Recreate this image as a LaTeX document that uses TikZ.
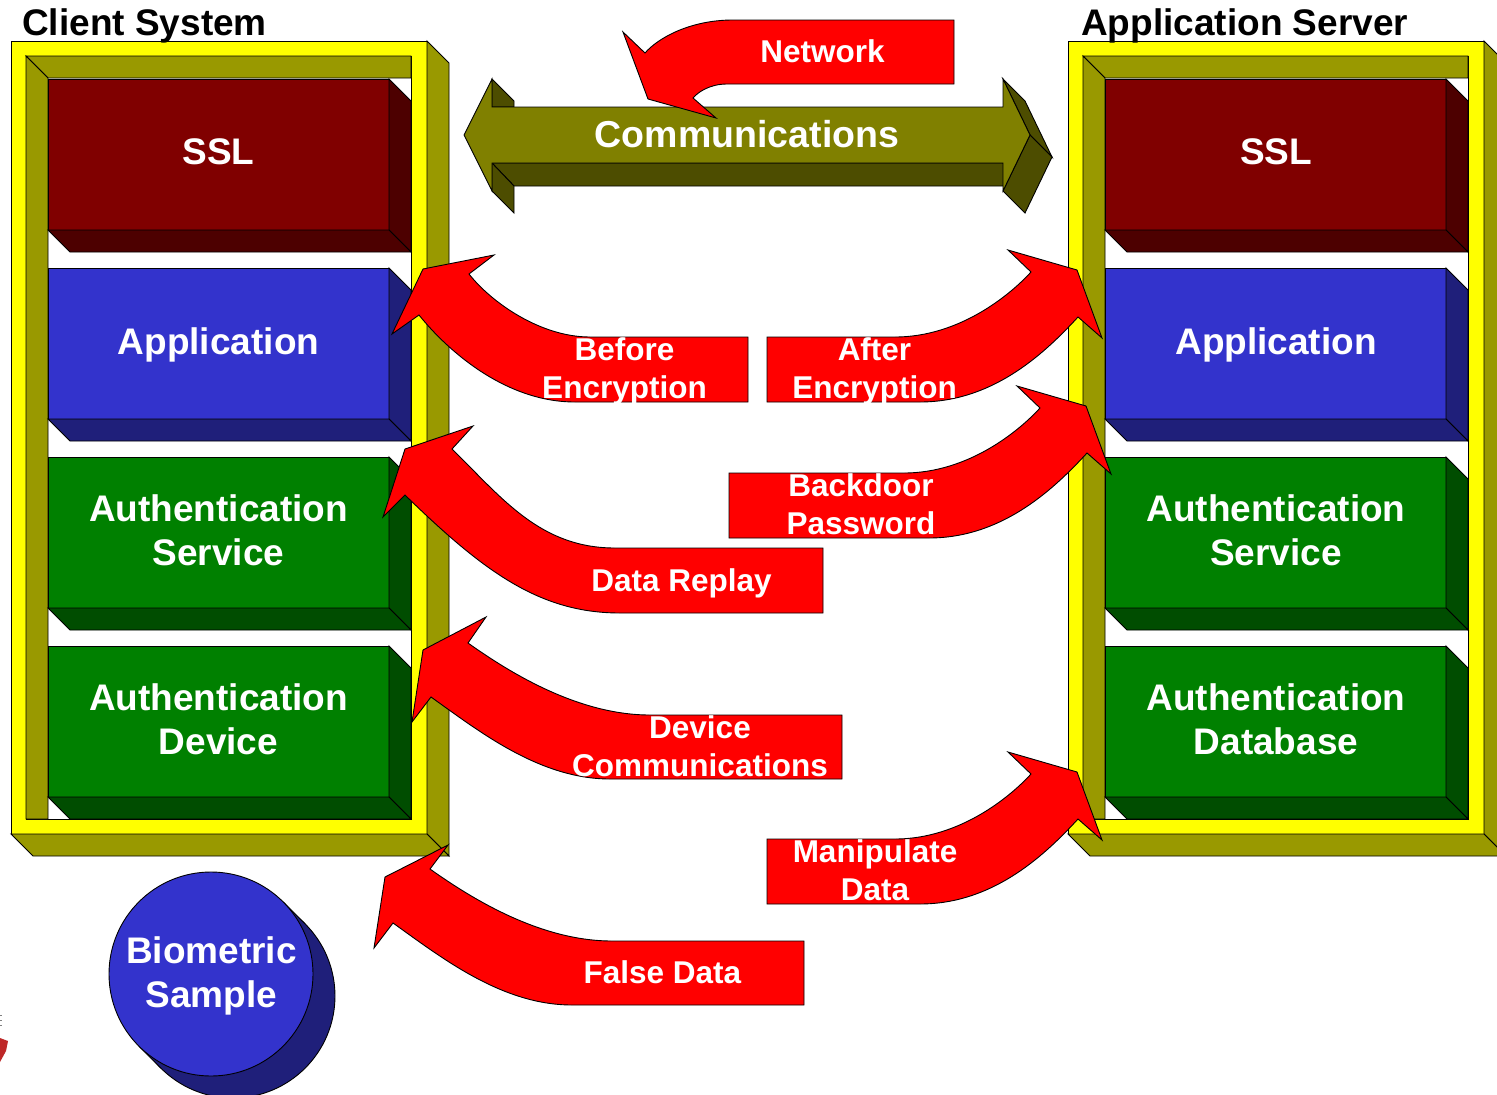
\documentclass[tikz,border=0pt]{standalone}
\usepackage{fontspec}
\setmainfont{Liberation Sans}
\definecolor{sslfront}{RGB}{128,0,0}
\definecolor{sslside}{RGB}{77,0,0}
\definecolor{appfront}{RGB}{51,51,204}
\definecolor{appside}{RGB}{31,31,122}
\definecolor{authfront}{RGB}{0,128,0}
\definecolor{authside}{RGB}{0,77,0}
\definecolor{wall}{RGB}{153,153,0}
\definecolor{frameyel}{RGB}{255,255,0}
\definecolor{commfront}{RGB}{128,128,0}
\definecolor{commside}{RGB}{77,77,0}
\definecolor{arrred}{RGB}{255,0,0}
\definecolor{artred}{RGB}{190,40,40}
\tikzset{
  outl/.style={draw=black, line width=0.9pt, line join=miter},
  blocklabel/.style={text=white, font=\fontsize{37}{44}\selectfont\bfseries, anchor=base, inner sep=0pt},
  commlabel/.style={text=white, font=\fontsize{37.5}{44}\selectfont\bfseries, anchor=base, inner sep=0pt},
  redlabel/.style={text=white, font=\fontsize{31.5}{38}\selectfont\bfseries, anchor=base, inner sep=0pt},
  titlelabel/.style={text=black, font=\fontsize{37}{44}\selectfont\bfseries, anchor=base west, inner sep=0pt},
  redarrow/.style={outl, fill=arrred},
}
\newcommand\drawframe{%
  \path[outl, fill=frameyel, even odd rule] (11,41) rectangle (427,834) (26,56) rectangle (411,819);
  \path[outl, fill=wall] (427,41) -- (449,63) -- (449,856) -- (427,834) -- cycle;
  \path[outl, fill=wall] (11,834) -- (427,834) -- (449,856) -- (33,856) -- cycle;
  \path[outl, fill=wall] (26,56) -- (411,56) -- (411,78) -- (48,78) -- cycle;
  \path[outl, fill=wall] (26,56) -- (48,78) -- (48,819) -- (26,819) -- cycle;
}
\newcommand\drawblock[3]{%
  \path[outl, fill=#2] (48,#1) rectangle (389,{#1+151});
  \path[outl, fill=#3] (389,#1) -- (411,{#1+22}) -- (411,{#1+173}) -- (389,{#1+151}) -- cycle;
  \path[outl, fill=#3] (48,{#1+151}) -- (389,{#1+151}) -- (411,{#1+173}) -- (70,{#1+173}) -- cycle;
}
\begin{document}
\begin{tikzpicture}[x=1pt,y=-1pt]
\useasboundingbox (0,0) rectangle (1497,1095);
\fill[white] (0,0) rectangle (1497,1095);

% client system frame
\drawframe
\drawblock{79}{sslfront}{sslside}
\drawblock{268}{appfront}{appside}
\drawblock{457}{authfront}{authside}
\drawblock{646}{authfront}{authside}

% application server frame
\begin{scope}[xshift=1057pt]
\drawframe
\drawblock{79}{sslfront}{sslside}
\drawblock{268}{appfront}{appside}
\drawblock{457}{authfront}{authside}
\drawblock{646}{authfront}{authside}
\end{scope}

% communications double arrow
\path[outl, fill=commside] (492,79) -- (514,101) -- (514,107) -- (492,107) -- cycle;
\path[outl, fill=commside] (492,163) -- (1003,163) -- (1025,186) -- (514,186) -- cycle;
\path[outl, fill=commside] (492,163) -- (492,191) -- (514,213) -- (514,186) -- cycle;
\path[outl, fill=commside] (1003,79) -- (1030,135) -- (1052,157) -- (1025,101) -- cycle;
\path[outl, fill=commside] (1030,135) -- (1003,191) -- (1025,213) -- (1052,157) -- cycle;
\path[outl, fill=commfront] (464,135) -- (492,79) -- (492,107) -- (1003,107) -- (1003,79)
  -- (1030,135) -- (1003,191) -- (1003,163) -- (492,163) -- (492,191) -- cycle;

% network arrow
\path[redarrow] (954,20) -- (733,20) .. controls (690,20) and (658,38) .. (645,53) -- (623,32)
  -- (648,99) -- (716,118) -- (693,98) .. controls (698,92) and (710,84) .. (727,84) -- (954,84) -- cycle;

% before encryption
\path[redarrow] (748,337) -- (590,337) .. controls (540,337) and (491,302) .. (469,274) -- (494,255)
  -- (423,269) -- (392,334) -- (419,315) .. controls (447,350) and (505,402) .. (575,402) -- (748,402) -- cycle;

% data replay
\path[redarrow] (823,548) -- (615,548) .. controls (540,548) and (502,498) .. (452,449) -- (473,426)
  -- (405,449) -- (383,517) -- (405,495) .. controls (484,572) and (540,613) .. (620,613) -- (823,613) -- cycle;

% device communications
\path[redarrow] (842,715) -- (650,715) .. controls (580,715) and (513,675) .. (468,643) -- (486,617)
  -- (423,650) -- (412,722) -- (431,697) .. controls (480,732) and (540,779) .. (610,779) -- (842,779) -- cycle;

% false data
\path[redarrow] (804,941) -- (612,941) .. controls (542,941) and (475,901) .. (430,869) -- (448,845)
  -- (385,877) -- (374,948) -- (393,923) .. controls (442,958) and (502,1005) .. (572,1005) -- (804,1005) -- cycle;

% after encryption
\path[redarrow] (767,337) -- (895,337) .. controls (960,337) and (1011,294) .. (1031,272) -- (1008,250)
  -- (1077,270) -- (1102,338) -- (1078,317) .. controls (1041,357.5) and (990,402) .. (920,402) -- (767,402) -- cycle;

% backdoor password
\begin{scope}[shift={(9,136)}]
\path[redarrow] (720,337) -- (895,337) .. controls (960,337) and (1011,294) .. (1031,272) -- (1008,250)
  -- (1077,270) -- (1102,338) -- (1078,317) .. controls (1041,357.5) and (990,402) .. (920,402) -- (720,402) -- cycle;
\end{scope}

% manipulate data
\begin{scope}[shift={(0,502)}]
\path[redarrow] (767,337) -- (895,337) .. controls (960,337) and (1011,294) .. (1031,272) -- (1008,250)
  -- (1077,270) -- (1102,338) -- (1078,317) .. controls (1041,357.5) and (990,402) .. (920,402) -- (767,402) -- cycle;
\end{scope}

% biometric sample
\path[outl, fill=appside] (233,996) circle[radius=102pt];
\fill[appside] (283.1,901.9) -- (305.1,923.9) -- (160.9,1068.1) -- (138.9,1046.1) -- cycle;
\draw[line width=0.9pt] (283.1,901.9) -- (305.1,923.9) (138.9,1046.1) -- (160.9,1068.1);
\path[outl, fill=appfront] (211,974) circle[radius=102pt];

% artefact at left edge
\fill[artred] (0,1038) -- (8,1041) -- (6,1051) -- (0,1062) -- cycle;
\draw[gray, line width=1pt] (0,1015) -- (2,1015) (0,1020) -- (2,1020) (0,1025) -- (2,1025);

% labels
\node[titlelabel] (tclient) at (22,35) {Client System};
\node[titlelabel] (tserver) at (1081,35) {Application Server};

\node[blocklabel] (cssl) at (218.5,164) {SSL};
\node[blocklabel] (capp) at (218.5,354) {Application};
\node[blocklabel] (cas) at (218.5,521) {\begin{tabular}[t]{@{}c@{}}Authentication\\Service\end{tabular}};
\node[blocklabel] (cad) at (218.5,710) {\begin{tabular}[t]{@{}c@{}}Authentication\\Device\end{tabular}};

\node[blocklabel] (sssl) at (1276,164) {SSL};
\node[blocklabel] (sapp) at (1276,354) {Application};
\node[blocklabel] (sas) at (1276,521) {\begin{tabular}[t]{@{}c@{}}Authentication\\Service\end{tabular}};
\node[blocklabel] (sadb) at (1276,710) {\begin{tabular}[t]{@{}c@{}}Authentication\\Database\end{tabular}};

\node[commlabel] (comm) at (747,147) {Communications};
\node[redlabel] (net) at (822.5,62) {Network};
\node[redlabel] (before) at (624.5,360) {\begin{tabular}[t]{@{}c@{}}Before\\Encryption\end{tabular}};
\node[redlabel] (after) at (874.5,360) {\begin{tabular}[t]{@{}c@{}}After\\Encryption\end{tabular}};
\node[redlabel] (backdoor) at (861,496) {\begin{tabular}[t]{@{}c@{}}Backdoor\\Password\end{tabular}};
\node[redlabel] (replay) at (681.5,591) {Data Replay};
\node[redlabel] (devcomm) at (700,738) {\begin{tabular}[t]{@{}c@{}}Device\\Communications\end{tabular}};
\node[redlabel] (manip) at (875,862) {\begin{tabular}[t]{@{}c@{}}Manipulate\\Data\end{tabular}};
\node[redlabel] (falsed) at (662.5,983) {False Data};
\node[blocklabel] (bio) at (211.5,963) {\begin{tabular}[t]{@{}c@{}}Biometric\\Sample\end{tabular}};
\end{tikzpicture}
\end{document}
